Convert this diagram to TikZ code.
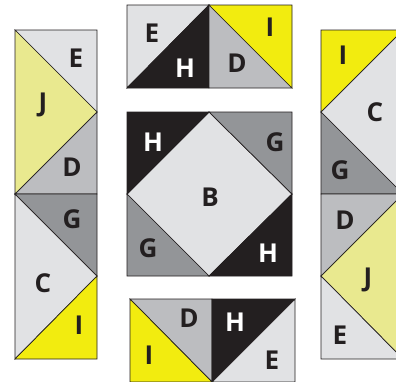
\documentclass[tikz,border=0pt]{standalone}
\usepackage{fontspec}
\setmainfont{Open Sans}
\definecolor{cE}{HTML}{E1E2E4}
\definecolor{cI}{HTML}{F2EC0F}
\definecolor{cJ}{HTML}{E9E98F}
\definecolor{cD}{HTML}{BCBDC0}
\definecolor{cG}{HTML}{939598}
\definecolor{cH}{HTML}{231F20}
\definecolor{ln}{HTML}{231F20}
\tikzset{
  piece/.style={draw=ln, line width=0.7pt, line join=miter},
  lab/.style={font=\bfseries\fontsize{26}{26}\selectfont, text=cH, inner sep=0pt},
  wlab/.style={lab, text=white}
}
\newcommand{\tri}[4]{\filldraw[piece, fill=#1] #2 -- #3 -- #4 -- cycle;}
\begin{document}
\begin{tikzpicture}[x=1pt,y=-1pt]
\useasboundingbox (0,0) rectangle (396,381);
\clip (0,0) rectangle (396,381);
\fill[white] (0,0) rectangle (396,381);
% left strip
\tri{cE}{(15,30)}{(97,30)}{(97,112)}
\tri{cJ}{(15,30)}{(97,112)}{(15,194)}
\tri{cD}{(97,112)}{(97,194)}{(15,194)}
\tri{cG}{(15,194)}{(97,194)}{(97,276)}
\tri{cE}{(15,194)}{(97,276)}{(15,359)}
\tri{cI}{(97,276)}{(97,359)}{(15,359)}
% top block
\tri{cE}{(127,5)}{(209,5)}{(127,88)}
\tri{cH}{(209,5)}{(209,88)}{(127,88)}
\tri{cD}{(209,5)}{(209,88)}{(292,88)}
\tri{cI}{(209,5)}{(292,5)}{(292,88)}
% centre block
\filldraw[piece, fill=cE] (209,112) -- (292,194) -- (209,276) -- (127,194) -- cycle;
\tri{cH}{(127,112)}{(209,112)}{(127,194)}
\tri{cG}{(209,112)}{(292,112)}{(292,194)}
\tri{cG}{(127,194)}{(209,276)}{(127,276)}
\tri{cH}{(292,194)}{(292,276)}{(209,276)}
% bottom block
\tri{cD}{(130,299)}{(212,299)}{(212,382)}
\tri{cI}{(130,299)}{(212,382)}{(130,382)}
\tri{cH}{(212,299)}{(295,299)}{(212,382)}
\tri{cE}{(295,299)}{(295,382)}{(212,382)}
% right strip
\tri{cI}{(321,30)}{(403,30)}{(321,112)}
\tri{cE}{(403,30)}{(403,194)}{(321,112)}
\tri{cG}{(321,112)}{(403,194)}{(321,194)}
\tri{cD}{(321,194)}{(403,194)}{(321,276)}
\tri{cJ}{(403,194)}{(403,359)}{(321,276)}
\tri{cE}{(321,276)}{(403,359)}{(321,359)}
% labels left
\node[lab] (l1) at (76,58) {E};
\node[lab] (l2) at (43,105) {J};
\node[lab] (l3) at (72,167) {D};
\node[lab] (l4) at (72,219) {G};
\node[lab] (l5) at (43,283) {C};
\node[lab] (l6) at (79,325) {I};
% labels top
\node[lab] (t1) at (152,33) {E};
\node[wlab] (t2) at (185,68) {H};
\node[lab] (t3) at (237,63) {D};
\node[lab] (t4) at (270,27) {I};
% labels centre
\node[wlab] (c1) at (153,142) {H};
\node[lab] (c2) at (275,142) {G};
\node[lab] (c3) at (210,197) {B};
\node[lab] (c4) at (148,248) {G};
\node[wlab] (c5) at (268,253) {H};
% labels bottom
\node[lab] (b1) at (189,318) {D};
\node[wlab] (b2) at (235,322) {H};
\node[lab] (b3) at (149,355) {I};
\node[lab] (b4) at (272,360) {E};
% labels right
\node[lab] (r1) at (343,55) {I};
\node[lab] (r2) at (375,112) {C};
\node[lab] (r3) at (340,170) {G};
\node[lab] (r4) at (345,220) {D};
\node[lab] (r5) at (368,280) {J};
\node[lab] (r6) at (340,335) {E};
\end{tikzpicture}
\end{document}
